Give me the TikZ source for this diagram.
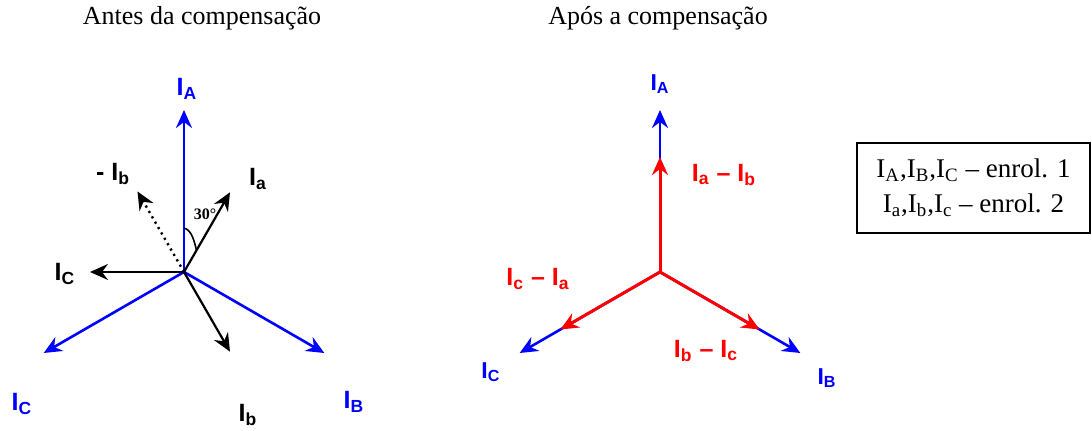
\documentclass[tikz,border=0pt]{standalone}
\usepackage{fontspec}
\setmainfont{Liberation Serif}
\setsansfont{Liberation Sans}
\usetikzlibrary{arrows.meta}
\newcommand{\cur}[1]{I\textsubscript{#1}}
\begin{document}
\begin{tikzpicture}[
    x=0.5pt, y=0.5pt,
    tip/.style={-{Stealth[length=9pt,width=8pt,inset=3pt]}},
    fase/.style={tip, blue, line width=1.3pt},
    sec/.style={tip, black, line width=1.1pt},
    dif/.style={tip, red, line width=1.5pt},
    lbl/.style={font=\sffamily\bfseries\fontsize{12.5}{14}\selectfont, inner sep=0pt},
    lbls/.style={font=\sffamily\bfseries\fontsize{11.5}{13}\selectfont, inner sep=0pt},
    ttl/.style={font=\fontsize{13}{15}\selectfont, inner sep=0pt}
]
    \useasboundingbox (0,0) rectangle (1092,431);

    % antes da compensacao
    \node[ttl] (t1) at (202,413) {Antes da compensação};
    \coordinate (O1) at (184,159);
    \path (O1) ++(90:162) coordinate (A1)
          (O1) ++(-30:162) coordinate (B1)
          (O1) ++(210:162) coordinate (C1)
          (O1) ++(60:92) coordinate (a1)
          (O1) ++(-60:92) coordinate (b1)
          (O1) ++(180:94) coordinate (c1)
          (O1) ++(120:93) coordinate (mb1)
          (O1) ++(90:44) coordinate (g1)
          (O1) ++(60:25) coordinate (g2);

    \draw[fase] (O1) -- (A1);
    \draw[fase] (O1) -- (B1);
    \draw[fase] (O1) -- (C1);
    \draw[sec] (O1) -- (a1);
    \draw[sec] (O1) -- (b1);
    \draw[sec] (O1) -- (c1);
    \draw[sec, dotted, line width=1.2pt] (O1) -- (mb1);
    \draw[line width=0.8pt] (g1) .. controls +(8,-2) and +(-2,8) .. (g2);

    \node[lbl, blue] (lA1) at (187,342) {\cur{A}};
    \node[lbl, blue] (lB1) at (354,29) {\cur{B}};
    \node[lbl, blue] (lC1) at (22,27) {\cur{C}};
    \node[lbl] (la1) at (258,252) {\cur{a}};
    \node[lbl] (lb1) at (248,16) {\cur{b}};
    \node[lbl] (lc1) at (65,157) {\cur{C}};
    \node[lbl] (lmb1) at (113,257) {- \cur{b}};
    \node[font=\bfseries\fontsize{8}{9}\selectfont, inner sep=0pt] (ang) at (205,217) {30°};

    % apos a compensacao
    \node[ttl] (t2) at (658,413) {Após a compensação};
    \coordinate (O2) at (660,159);
    \path (O2) ++(90:162) coordinate (A2)
          (O2) ++(-30:162) coordinate (B2)
          (O2) ++(210:162) coordinate (C2)
          (O2) ++(90:115) coordinate (ab2)
          (O2) ++(-30:115) coordinate (bc2)
          (O2) ++(210:115) coordinate (ca2);

    \draw[fase] (O2) -- (A2);
    \draw[fase] (O2) -- (B2);
    \draw[fase] (O2) -- (C2);
    \draw[dif] (O2) -- (ab2);
    \draw[dif] (O2) -- (bc2);
    \draw[dif] (O2) -- (ca2);

    \node[lbls, blue] (lA2) at (660,347) {\cur{A}};
    \node[lbls, blue] (lB2) at (827,53) {\cur{B}};
    \node[lbls, blue] (lC2) at (491,59) {\cur{C}};
    \node[lbl, red] (lab2) at (724,256) {\cur{a} -- \cur{b}};
    \node[lbl, red] (lbc2) at (706,80) {\cur{b} -- \cur{c}};
    \node[lbl, red] (lca2) at (538,152) {\cur{c} -- \cur{a}};

    % legenda
    \node[draw, line width=0.75pt, minimum width=116.5pt, minimum height=45pt, align=center,
          font=\fontsize{13.5}{17.5}\selectfont] (leg) at (973.5,243)
        {\cur{A},\cur{B},\cur{C} -- enrol. 1\\ \cur{a},\cur{b},\cur{c} -- enrol. 2};
\end{tikzpicture}
\end{document}
